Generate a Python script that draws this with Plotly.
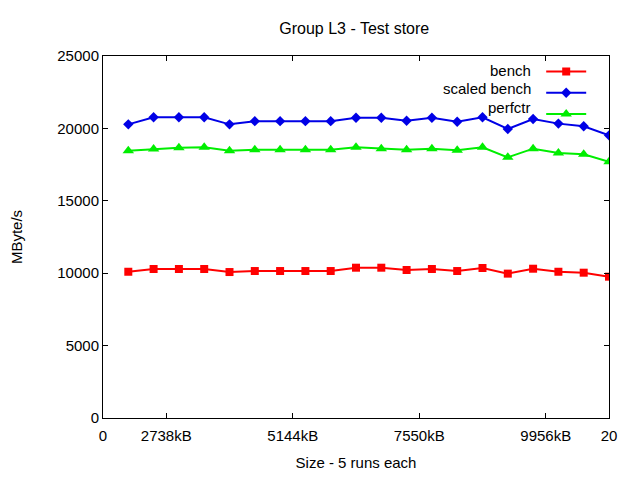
import plotly.graph_objects as go

x_idx = list(range(1, 21))
bench = [10100, 10290, 10290, 10290, 10080, 10150, 10150, 10150, 10150, 10380,
         10380, 10220, 10290, 10150, 10360, 9970, 10310, 10100, 10035, 9760]
scaled_bench = [20280, 20770, 20770, 20770, 20280, 20500, 20500, 20500, 20500, 20740,
                20740, 20530, 20740, 20460, 20770, 19960, 20650, 20330, 20150, 19520]
perfctr = [18460, 18580, 18670, 18690, 18460, 18530, 18530, 18530, 18530, 18690,
           18600, 18530, 18600, 18490, 18690, 18000, 18600, 18300, 18210, 17700]
series_names = ["bench", "scaled bench", "perfctr"]
x_tickvals = [0, 2.5, 7.5, 12.5, 17.5, 20]
x_ticktext = ["0", "2738kB", "5144kB", "7550kB", "9956kB", "20"]
y_tickvals = [0, 5000, 10000, 15000, 20000, 25000]

FONT = "Liberation Sans, Arial, sans-serif"
colors = ["#ff0000", "#0000e6", "#00ee00"]
symbols = ["square", "diamond", "triangle-up"]
msizes = [8, 8, 10]

fig = go.Figure()
for name, vals, c, s, ms in zip(series_names, [bench, scaled_bench, perfctr], colors, symbols, msizes):
    fig.add_trace(go.Scatter(
        x=x_idx, y=vals, mode="lines+markers", name=" ",
        line=dict(color=c, width=2),
        marker=dict(symbol=s, size=ms, color=c),
        hoverinfo="skip",
    ))

# legend text, gnuplot style (text right-aligned to the left of the sample)
for i, name in enumerate(series_names):
    fig.add_annotation(
        text=name, xref="paper", yref="paper", x=0.85, y=0.961 - i * 0.0515,
        xanchor="right", yanchor="middle", showarrow=False,
        font=dict(family=FONT, size=15, color="#000000"),
    )

# page body has an 8px default margin: compensate in the figure margins
fig.update_layout(
    width=640, height=480,
    margin=dict(l=95, r=39, t=48, b=70),
    paper_bgcolor="white", plot_bgcolor="white",
    font=dict(family=FONT, size=15, color="#000000"),
    title=dict(text="Group L3 - Test store", x=0.541, xanchor="center", y=0.958, yanchor="middle",
               font=dict(family=FONT, size=16, color="#000000")),
    legend=dict(x=0.866, xanchor="left", y=1.0, yanchor="top",
                bgcolor="rgba(0,0,0,0)", font=dict(size=14), itemwidth=40,
                tracegroupgap=0),
    showlegend=True,
)
fig.update_xaxes(
    range=[0, 20], tickvals=x_tickvals, ticktext=x_ticktext,
    ticks="inside", ticklen=5, tickcolor="#000", mirror="ticks",
    showline=True, linecolor="#000", linewidth=1, showgrid=False, zeroline=False,
    automargin=False, ticklabelstandoff=4,
    title=dict(text="Size - 5 runs each", standoff=14, font=dict(size=15)),
    tickfont=dict(size=15),
)
fig.update_yaxes(
    range=[0, 25000], tickvals=y_tickvals, tickformat="d",
    ticks="inside", ticklen=5, tickcolor="#000", mirror="ticks",
    showline=True, linecolor="#000", linewidth=1, showgrid=False, zeroline=False,
    automargin=False,
    title=dict(text="MByte/s", standoff=39, font=dict(size=15)),
    tickfont=dict(size=15),
)
fig.write_html("out.html")
